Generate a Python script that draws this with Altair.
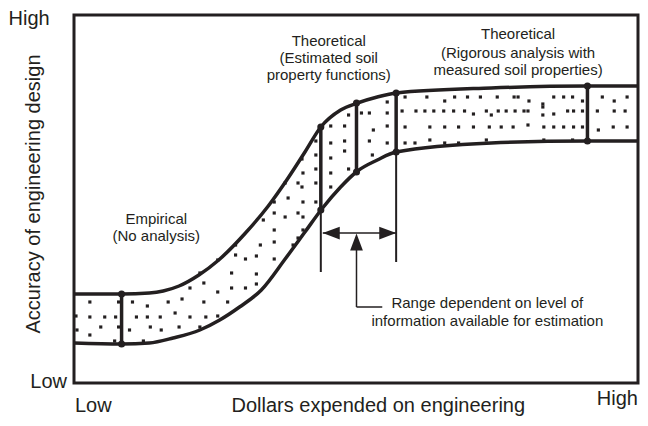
import altair as alt
import pandas as pd

INK = "#231f20"
SANS = "Liberation Sans, Arial, sans-serif"

# Band boundaries (x: dollars, y: accuracy; arbitrary units)
upper_x = [0, 48, 76, 90, 106, 126, 146, 173, 196, 216, 233, 249, 269, 286, 306, 325, 421, 518, 569]
upper_y = [89, 89, 90, 92, 97, 108, 123, 150, 177, 205, 231, 256, 273, 280, 286, 290, 295, 297, 297]
lower_x = [0, 48, 76, 100, 127, 147, 167, 189, 213, 233, 250, 269, 286, 306, 325, 421, 518, 569]
lower_y = [40, 39, 40, 45, 53, 63, 76, 93, 124, 151, 174, 196, 212, 223, 231, 240, 242, 242]

# Stipple dots inside the band
dot_x = [16, 45, 59, 74, 95, 109, 131, 155, 2, 16, 31, 42, 63, 74, 87, 102, 117, 133, 145,
         27, 45, 56, 77, 88, 106, 127, 3, 16, 41, 70, 117, 131, 145, 127, 159, 163, 145, 159,
         244, 244, 230, 244, 231, 244, 226, 230, 213, 216, 202, 231, 244, 202, 213, 226, 231,
         191, 202, 231, 226, 221, 202, 188, 163, 173, 184, 202, 184, 173, 184,
         316, 316, 316, 316, 298, 298, 302, 290, 277, 273, 273, 273, 259, 259, 259, 277, 259, 259, 301,
         334, 356, 374, 384, 397, 410, 427, 444, 448, 459, 473, 484, 494, 503, 513, 533, 545, 558,
         331, 345, 354, 363, 373, 383, 394, 403, 416, 421, 428, 436, 445, 454, 458, 473, 473, 484,
         498, 504, 513, 528, 545, 556,
         334, 359, 374, 388, 403, 419, 431, 443, 458, 474, 484, 494, 504, 513, 529, 544, 558,
         334, 344, 359, 374, 388, 416, 474, 503]
dot_y = [81, 81, 81, 77, 81, 84, 81, 81, 67, 66, 66, 66, 66, 66, 66, 70, 66, 66, 67,
         56, 56, 53, 56, 53, 56, 56, 53, 48, 42, 42, 95, 100, 91, 110, 110, 128, 123, 95,
         242, 228, 224, 214, 210, 200, 200, 196, 200, 185, 181, 181, 181, 170, 166, 170, 166,
         163, 153, 153, 145, 138, 141, 138, 138, 124, 127, 124, 109, 95, 99,
         281, 270, 257, 240, 270, 242, 253, 270, 268, 257, 242, 232, 257, 240, 225, 214, 210, 196, 228,
         286, 286, 282, 286, 286, 286, 286, 286, 286, 282, 279, 286, 286, 286, 282, 286, 282, 286,
         272, 272, 272, 272, 272, 272, 272, 269, 272, 268, 272, 272, 272, 272, 272, 276, 268, 269,
         272, 272, 272, 272, 272, 272,
         256, 256, 256, 256, 256, 256, 256, 256, 258, 256, 256, 256, 256, 256, 253, 256, 256,
         240, 240, 243, 240, 240, 243, 243, 243]

# Vertical bars marking each analysis level
bar_x = [48, 249, 285, 325, 518]
bar_top = [89, 256, 280, 290, 297]
bar_bottom = [39, 173, 211, 231, 242]

# Thin guide lines below the range bars
guide_x = [249, 325]
guide_top = [173, 231]
guide_bottom = [111, 121]

# Range arrow (horizontal double arrow and pointer)
range_x1, range_x2, range_y = 251, 325, 150
pointer_x, pointer_y1, pointer_y2, pointer_x2 = 285, 76, 150, 311

# Annotation texts
ann_text = ["Theoretical", "(Estimated soil", "property functions)",
            "Theoretical", "(Rigorous analysis with", "measured soil properties)",
            "Empirical", "(No analysis)",
            "Range dependent on level of", "information available for estimation"]
ann_x = [257, 257, 257, 448, 448, 448, 83, 83, 417, 417]
ann_y = [337, 320, 303, 344, 325, 308, 159, 142, 75, 57]

X = alt.Scale(domain=[0, 569], nice=False, zero=False)
Y = alt.Scale(domain=[0, 368], nice=False, zero=False)

curves = pd.DataFrame(
    [{"x": a, "y": b, "curve": "upper", "o": i} for i, (a, b) in enumerate(zip(upper_x, upper_y))]
    + [{"x": a, "y": b, "curve": "lower", "o": i} for i, (a, b) in enumerate(zip(lower_x, lower_y))]
)
dots = pd.DataFrame({"x": dot_x, "y": dot_y})
bars = pd.DataFrame({"x": bar_x, "y": bar_top, "y2": bar_bottom})
ends = pd.DataFrame({"x": bar_x + bar_x, "y": bar_top + bar_bottom})
guides = pd.DataFrame({"x": guide_x, "y": guide_top, "y2": guide_bottom})
arrow_lines = pd.DataFrame({
    "x": [range_x1, pointer_x, pointer_x],
    "x2": [range_x2, pointer_x, pointer_x2],
    "y": [range_y, pointer_y1, pointer_y1],
    "y2": [range_y, pointer_y2 - 4, pointer_y1],
})
heads = pd.DataFrame({
    "x": [range_x1 + 8.5, range_x2 - 8.5, pointer_x],
    "y": [range_y, range_y, pointer_y2 - 9],
    "shape": ["M-1,0L1,-0.75L1,0.75Z", "M1,0L-1,-0.75L-1,0.75Z", "M0,-1L-0.75,1L0.75,1Z"],
})
ann = pd.DataFrame({"t": ann_text, "x": ann_x, "y": ann_y})

def enc(base, **kw):
    return base.encode(
        x=alt.X("x:Q", scale=X, axis=None),
        y=alt.Y("y:Q", scale=Y, axis=None),
        **kw,
    )

lines = enc(alt.Chart(curves).mark_line(color=INK, strokeWidth=3.5, interpolate="monotone"),
            detail="curve:N", order="o:Q")
stipple = enc(alt.Chart(dots).mark_square(color=INK, size=10, opacity=1))
bar_rules = enc(alt.Chart(bars).mark_rule(color=INK, strokeWidth=3.5), y2="y2:Q")
guide_rules = enc(alt.Chart(guides).mark_rule(color=INK, strokeWidth=2), y2="y2:Q")
end_pts = enc(alt.Chart(ends).mark_circle(color=INK, size=50, opacity=1))
arr = enc(alt.Chart(arrow_lines).mark_rule(color=INK, strokeWidth=1.5), x2="x2:Q", y2="y2:Q")
arr_heads = enc(alt.Chart(heads).mark_point(filled=True, color=INK, size=289, opacity=1, strokeWidth=0),
                shape=alt.Shape("shape:N", scale=None, legend=None))
ann_txt = enc(alt.Chart(ann).mark_text(font=SANS, fontSize=15, color=INK, align="center",
                                       baseline="alphabetic"), text="t:N")

def label(t, x, y, align, angle=0):
    d = pd.DataFrame({"t": [t], "x": [x], "y": [y]})
    return enc(alt.Chart(d).mark_text(font=SANS, fontSize=20, color=INK, align=align,
                                      baseline="alphabetic", angle=angle), text="t:N")

axis_labels = [
    label("High", -66, 358, "left"),
    label("Low", -7, -5, "right"),
    label("Low", 1, -29, "left"),
    label("High", 569, -22, "right"),
    label("Dollars expended on engineering", 307, -29, "center"),
    label("Accuracy of engineering design", -34, 189, "center", angle=270),
]

chart = alt.layer(
    stipple, lines, guide_rules, bar_rules, end_pts, arr, arr_heads, ann_txt, *axis_labels
).properties(
    width=564, height=368,
    autosize="none",
    padding={"left": 66, "top": 7, "right": 2, "bottom": 35},
    background="white",
).configure_view(stroke=INK, strokeWidth=3)

chart.save("out.html", embed_options={"renderer": "svg", "actions": False})
